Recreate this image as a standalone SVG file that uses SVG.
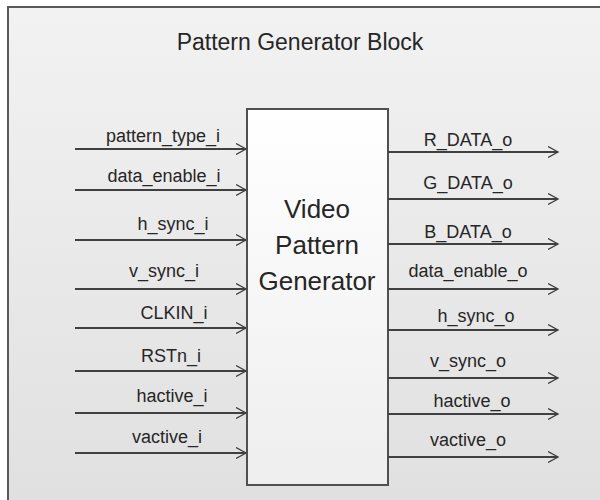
<svg xmlns="http://www.w3.org/2000/svg" width="600" height="500" viewBox="0 0 600 500">
<defs>
<linearGradient id="bg" x1="0" y1="0" x2="0" y2="1">
<stop offset="0" stop-color="#f2f2f2"/>
<stop offset="1" stop-color="#e0e0e0"/>
</linearGradient>
<linearGradient id="boxg" x1="0" y1="0" x2="0" y2="1">
<stop offset="0" stop-color="#ffffff"/>
<stop offset="1" stop-color="#eeeeee"/>
</linearGradient>
<marker id="arr" viewBox="0 0 12 12" refX="10" refY="6" markerWidth="12" markerHeight="12" markerUnits="userSpaceOnUse" orient="auto">
<path d="M0,0.5 L10,6 L0,11.5" fill="none" stroke="#404040" stroke-width="1.3"/>
</marker>
</defs>
<style>
.lbl{font-family:"Liberation Sans",Arial,sans-serif;font-size:18px;fill:#262626;text-anchor:middle}
.title{font-family:"Liberation Sans",Arial,sans-serif;font-size:23px;fill:#262626;text-anchor:middle}
.big{font-family:"Liberation Sans",Arial,sans-serif;font-size:26px;fill:#262626;text-anchor:middle}
.wire{stroke:#404040;stroke-width:2;fill:none;marker-end:url(#arr)}
</style>
<g id="frame">
<rect x="8" y="7" width="600" height="500" fill="url(#bg)" stroke="#5a5a5a" stroke-width="2"/>
<text class="title" x="300" y="50">Pattern Generator Block</text>
</g>
<g id="generator">
<rect x="247" y="109" width="141" height="376" fill="url(#boxg)" stroke="#505050" stroke-width="2"/>
<text class="big" x="317" y="218">Video</text>
<text class="big" x="317" y="254">Pattern</text>
<text class="big" x="317" y="290">Generator</text>
</g>
<g id="connectors">
<line class="wire" x1="75" y1="149" x2="246" y2="149"/>
<line class="wire" x1="75" y1="190" x2="246" y2="190"/>
<line class="wire" x1="75" y1="240" x2="246" y2="240"/>
<line class="wire" x1="75" y1="289" x2="246" y2="289"/>
<line class="wire" x1="75" y1="328" x2="246" y2="328"/>
<line class="wire" x1="75" y1="371" x2="246" y2="371"/>
<line class="wire" x1="75" y1="413" x2="246" y2="413"/>
<line class="wire" x1="75" y1="453" x2="246" y2="453"/>
<line class="wire" x1="388" y1="152" x2="558" y2="152"/>
<line class="wire" x1="388" y1="199" x2="558" y2="199"/>
<line class="wire" x1="388" y1="244" x2="558" y2="244"/>
<line class="wire" x1="388" y1="289" x2="558" y2="289"/>
<line class="wire" x1="388" y1="330" x2="558" y2="330"/>
<line class="wire" x1="388" y1="378" x2="558" y2="378"/>
<line class="wire" x1="388" y1="414" x2="558" y2="414"/>
<line class="wire" x1="388" y1="457" x2="558" y2="457"/>
</g>
<g id="input-labels">
<text class="lbl" x="163" y="142">pattern_type_i</text>
<text class="lbl" x="164" y="182">data_enable_i</text>
<text class="lbl" x="173" y="230">h_sync_i</text>
<text class="lbl" x="164" y="277">v_sync_i</text>
<text class="lbl" x="174" y="319">CLKIN_i</text>
<text class="lbl" x="171" y="362">RSTn_i</text>
<text class="lbl" x="172" y="402">hactive_i</text>
<text class="lbl" x="167" y="443">vactive_i</text>
</g>
<g id="output-labels">
<text class="lbl" x="468" y="146">R_DATA_o</text>
<text class="lbl" x="468" y="189">G_DATA_o</text>
<text class="lbl" x="468" y="238">B_DATA_o</text>
<text class="lbl" x="468" y="277">data_enable_o</text>
<text class="lbl" x="476" y="322">h_sync_o</text>
<text class="lbl" x="468" y="367">v_sync_o</text>
<text class="lbl" x="472" y="407">hactive_o</text>
<text class="lbl" x="468" y="446">vactive_o</text>
</g>
</svg>
